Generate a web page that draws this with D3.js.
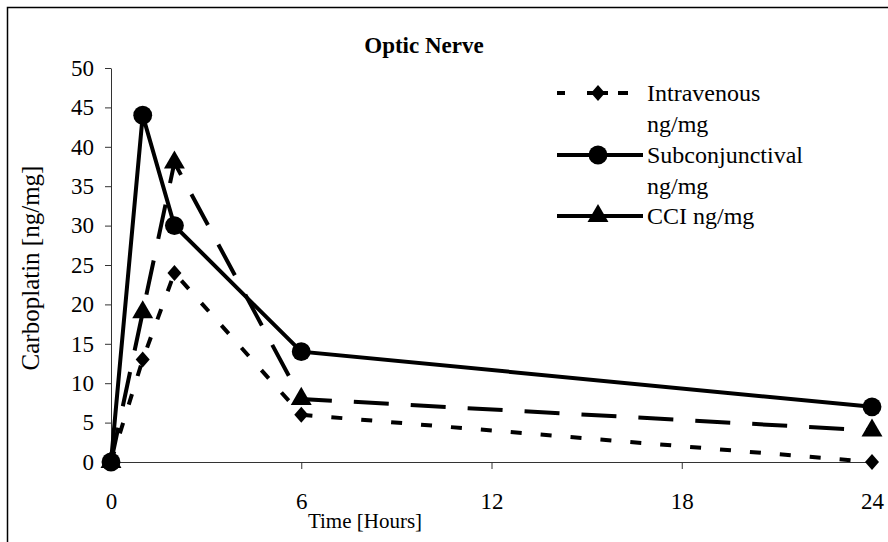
<!DOCTYPE html>
<html>
<head>
<meta charset="utf-8">
<script src="https://cdn.jsdelivr.net/npm/d3@7"></script>
<style>
  body { margin: 0; background: #fff; }
  text { font-family: "Liberation Serif", "Times New Roman", serif; fill: #000; }
</style>
</head>
<body>
<svg id="chart" width="888" height="542"></svg>
<script>
const hours = [0, 1, 2, 6, 24];
const intravenous = [0, 13, 24, 6, 0];
const subconjunctival = [0, 44, 30, 14, 7];
const cci = [0, 19, 38, 8, 4];
const xTicks = [0, 6, 12, 18, 24];
const yTicks = [0, 5, 10, 15, 20, 25, 30, 35, 40, 45, 50];
const seriesNames = ["Intravenous ng/mg", "Subconjunctival ng/mg", "CCI ng/mg"];

const serif = "'Liberation Serif', 'Times New Roman', serif";
const svg = d3.select("#chart");

// outer frame, runs off the right and bottom edges like the original
svg.append("rect")
    .attr("x", 7.5).attr("y", 7.5)
    .attr("width", 900).attr("height", 560)
    .attr("fill", "none").attr("stroke", "#000").attr("stroke-width", 1.5);

const x = d3.scaleLinear().domain([0, 24]).range([111, 872]);
const y = d3.scaleLinear().domain([0, 50]).range([462, 68]);

const xAxis = svg.append("g")
    .attr("transform", `translate(0,${y(0)})`)
    .call(d3.axisBottom(x).tickValues(xTicks).tickSize(7).tickSizeOuter(0).tickPadding(24));
const yAxis = svg.append("g")
    .attr("transform", `translate(${x(0)},0)`)
    .call(d3.axisLeft(y).tickValues(yTicks).tickSize(6).tickSizeOuter(0).tickPadding(11));

[xAxis, yAxis].forEach(function(ax) {
    ax.attr("font-family", serif).attr("font-size", 23);
    ax.selectAll("path, line").attr("stroke", "#333").attr("stroke-width", 1);
    ax.selectAll("text").style("font-family", serif).style("font-size", "23px");
});

svg.append("text")
    .attr("x", 424).attr("y", 53)
    .attr("text-anchor", "middle")
    .style("font-family", serif)
    .style("font-size", "23px").style("font-weight", "bold")
    .text("Optic Nerve");

svg.append("text")
    .attr("x", 365).attr("y", 528)
    .attr("text-anchor", "middle")
    .style("font-family", serif)
    .style("font-size", "21px")
    .text("Time [Hours]");

svg.append("text")
    .attr("transform", "translate(39,268) rotate(-90)")
    .attr("text-anchor", "middle")
    .style("font-family", serif)
    .style("font-size", "25px")
    .text("Carboplatin [ng/mg]");

// diamond a bit taller than wide, as in the picture
const diamond = {
    draw: function(ctx, size) {
        const w = 7, h = 8;
        ctx.moveTo(0, -h); ctx.lineTo(w, 0); ctx.lineTo(0, h); ctx.lineTo(-w, 0); ctx.closePath();
    }
};

const series = [
    { name: seriesNames[0], values: intravenous, dash: "11,19", symbol: diamond, size: 0 },
    { name: seriesNames[1], values: subconjunctival, dash: null, symbol: d3.symbolCircle, size: 280 },
    { name: seriesNames[2], values: cci, dash: "35,22", symbol: d3.symbolTriangle, size: 190 }
];

const line = d3.line()
    .x(d => x(d[0]))
    .y(d => y(d[1]));

series.forEach(function(s) {
    const pts = hours.map((h, i) => [h, s.values[i]]);
    svg.append("path")
        .datum(pts)
        .attr("d", line)
        .attr("fill", "none")
        .attr("stroke", "#000")
        .attr("stroke-width", 4)
        .attr("stroke-dasharray", s.dash);
    svg.selectAll(null)
        .data(pts)
        .enter()
        .append("path")
        .attr("d", d3.symbol().type(s.symbol).size(s.size))
        .attr("transform", d => `translate(${x(d[0])},${y(d[1])})`)
        .attr("fill", "#000");
});

// legend
const legendRows = [93, 155, 216];
const legendDash = ["8,22,21,10,10", null, null];
const legendEnd = [628, 643, 643];
series.forEach(function(s, i) {
    const ly = legendRows[i];
    svg.append("line")
        .attr("x1", 557).attr("x2", legendEnd[i])
        .attr("y1", ly).attr("y2", ly)
        .attr("stroke", "#000").attr("stroke-width", 4)
        .attr("stroke-dasharray", legendDash[i]);
    svg.append("path")
        .attr("d", d3.symbol().type(s.symbol).size(s.size))
        .attr("transform", `translate(598,${ly})`)
        .attr("fill", "#000");
    const words = s.name.split(" ");
    const label = svg.append("text")
        .attr("x", 647).attr("y", ly + 8)
        .style("font-family", serif)
        .style("font-size", "24px");
    if (i < 2) {
        label.append("tspan").attr("x", 647).text(words[0]);
        label.append("tspan").attr("x", 647).attr("dy", 31).text(words[1]);
    } else {
        label.text(s.name);
    }
});
</script>
</body>
</html>
